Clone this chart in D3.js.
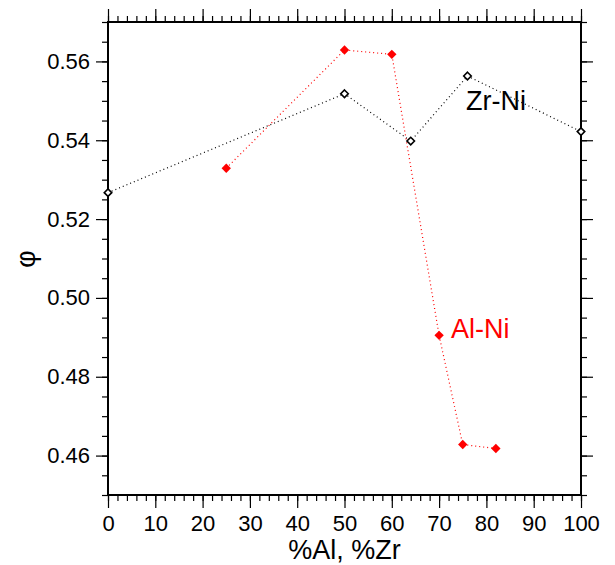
<!DOCTYPE html>
<html>
<head>
<meta charset="utf-8">
<script src="https://cdn.jsdelivr.net/npm/d3@7"></script>
<style>
  body { margin: 0; background: #fff; }
  svg { font-family: 'Liberation Sans', Arial, sans-serif; }
</style>
</head>
<body>
<svg id="container" width="615" height="565"></svg>
<script>
const svg = d3.select('#container')

// Zr-Ni series (open black diamonds)
const zrX = [0, 50, 64, 76, 100]
const zrY = [0.5267, 0.5518, 0.5398, 0.5563, 0.5422]
// Al-Ni series (filled red diamonds)
const alX = [25, 50, 60, 70, 75, 82]
const alY = [0.5329, 0.5629, 0.5618, 0.4905, 0.4628, 0.4618]

const xTicks = [0, 10, 20, 30, 40, 50, 60, 70, 80, 90, 100]
const yTicks = [0.46, 0.48, 0.50, 0.52, 0.54, 0.56]

const plotL = 108, plotR = 581, plotT = 22, plotB = 495

const xScale = d3.scaleLinear().domain([0, 100]).range([plotL, plotR])
const yScale = d3.scaleLinear().domain([0.45, 0.57]).range([plotB, plotT])

const xMinor = d3.range(0, 101, 2)
const yMinor = d3.range(0, 25).map((i) => 0.45 + i * 0.005)

const axisStyle = (g) => {
  g.select('.domain').remove()
  g.selectAll('line').attr('stroke', '#000').attr('stroke-width', 1.2)
}

// minor ticks
svg.append('g').attr('transform', `translate(0,${plotB})`)
  .call(d3.axisBottom(xScale).tickValues(xMinor).tickSize(6).tickFormat(''))
  .call(axisStyle)
svg.append('g').attr('transform', `translate(0,${plotT})`)
  .call(d3.axisTop(xScale).tickValues(xMinor).tickSize(6).tickFormat(''))
  .call(axisStyle)
svg.append('g').attr('transform', `translate(${plotL},0)`)
  .call(d3.axisLeft(yScale).tickValues(yMinor).tickSize(6).tickFormat(''))
  .call(axisStyle)
svg.append('g').attr('transform', `translate(${plotR},0)`)
  .call(d3.axisRight(yScale).tickValues(yMinor).tickSize(6).tickFormat(''))
  .call(axisStyle)

// major ticks
const xAxis = svg.append('g').attr('transform', `translate(0,${plotB})`)
  .call(d3.axisBottom(xScale).tickValues(xTicks).tickSize(13).tickPadding(7).tickFormat(d3.format('d')))
  .call(axisStyle)
xAxis.selectAll('text').attr('font-size', 22).attr('fill', '#000').attr('font-family', 'Liberation Sans, Arial, sans-serif')
svg.append('g').attr('transform', `translate(0,${plotT})`)
  .call(d3.axisTop(xScale).tickValues(xTicks).tickSize(13).tickFormat(''))
  .call(axisStyle)
const yAxis = svg.append('g').attr('transform', `translate(${plotL},0)`)
  .call(d3.axisLeft(yScale).tickValues(yTicks).tickSize(12).tickPadding(6).tickFormat(d3.format('.2f')))
  .call(axisStyle)
yAxis.selectAll('text').attr('font-size', 22).attr('fill', '#000').attr('font-family', 'Liberation Sans, Arial, sans-serif')
svg.append('g').attr('transform', `translate(${plotR},0)`)
  .call(d3.axisRight(yScale).tickValues(yTicks).tickSize(12).tickFormat(''))
  .call(axisStyle)

// frame
svg.append('rect')
  .attr('x', plotL).attr('y', plotT)
  .attr('width', plotR - plotL).attr('height', plotB - plotT)
  .attr('fill', 'none').attr('stroke', '#000').attr('stroke-width', 2)

const line = d3.line().x((d) => xScale(d[0])).y((d) => yScale(d[1]))
const zrData = zrX.map((x, i) => [x, zrY[i]])
const alData = alX.map((x, i) => [x, alY[i]])

svg.append('path').datum(zrData).attr('d', line)
  .attr('fill', 'none').attr('stroke', '#000').attr('stroke-width', 1.2)
  .attr('stroke-dasharray', '1,3')
svg.append('path').datum(alData).attr('d', line)
  .attr('fill', 'none').attr('stroke', '#f00').attr('stroke-width', 1.2)
  .attr('stroke-dasharray', '1,3')

const diamond = d3.symbol().type(d3.symbolDiamond2)

svg.selectAll('.zr').data(zrData).enter().append('path')
  .attr('class', 'zr')
  .attr('d', diamond.size(36)())
  .attr('transform', (d) => `translate(${xScale(d[0])},${yScale(d[1])})`)
  .attr('fill', '#fff').attr('stroke', '#000').attr('stroke-width', 1.6)

svg.selectAll('.al').data(alData).enter().append('path')
  .attr('class', 'al')
  .attr('d', diamond.size(56)())
  .attr('transform', (d) => `translate(${xScale(d[0])},${yScale(d[1])})`)
  .attr('fill', '#f00')

// series labels
svg.append('text').attr('x', 466).attr('y', 110)
  .attr('font-size', 27).attr('fill', '#000').text('Zr-Ni')
svg.append('text').attr('x', 451).attr('y', 338)
  .attr('font-size', 27).attr('fill', '#f00').text('Al-Ni')

// axis titles
svg.append('text').attr('x', (plotL + plotR) / 2).attr('y', 559)
  .attr('text-anchor', 'middle').attr('font-size', 27).text('%Al, %Zr')
svg.append('text')
  .attr('transform', 'translate(35,259) rotate(-90)')
  .attr('text-anchor', 'middle').attr('font-size', 27).text('φ')
</script>
</body>
</html>
